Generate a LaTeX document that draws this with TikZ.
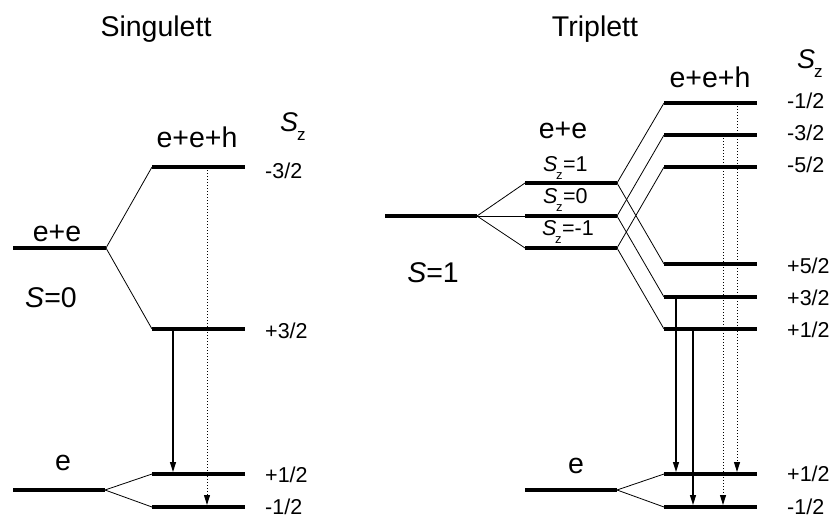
\documentclass[tikz,border=0pt]{standalone}
\usepackage{fontspec}
\setmainfont{Liberation Sans}
\usetikzlibrary{arrows.meta}
\newcommand\mylevel[4]{%
  \coordinate (#1-l) at (#2,#4);
  \coordinate (#1-r) at (#3,#4);
  \draw[lev] (#1-l) -- (#1-r);}
\newcommand\szsmall[1]{{\itshape S}\kern-1.5pt\raisebox{-0.4em}{\fontsize{13}{13}\selectfont z}\kern0.5pt#1}
\newcommand\szhead{{\itshape S}\kern-1pt\raisebox{-0.35em}{\fontsize{17}{17}\selectfont z}}
\begin{document}
\begin{tikzpicture}[x=1pt,y=-1pt,
  lev/.style={line width=4pt},
  conn/.style={line width=0.8pt},
  trans/.style={line width=1.4pt,-{Triangle[length=10pt,width=6pt]},shorten >=2pt},
  forb/.style={line width=1pt,dotted,-{Triangle[length=10pt,width=6pt]},shorten >=2pt},
  big/.style={font=\fontsize{28.5}{30}\selectfont, anchor=base, inner sep=0pt},
  lab/.style={font=\fontsize{21.5}{24}\selectfont, anchor=base west, inner sep=0pt},
  szl/.style={font=\fontsize{21.5}{22}\selectfont, anchor=base west, inner sep=0pt},
  hdr/.style={font=\fontsize{27}{30}\selectfont, anchor=base west, inner sep=0pt}]
\useasboundingbox (0,0) rectangle (834,519);

% ---------------- Singulett ----------------
\node[big] (tS) at (156,37) {Singulett};
\mylevel{ee}{13}{106}{248}
\mylevel{hu}{152}{245}{167}
\mylevel{hl}{152}{245}{329}
\mylevel{e}{13}{105}{490}
\mylevel{ep}{152}{245}{474}
\mylevel{em}{152}{245}{507}
\draw[conn] (ee-r) -- (hu-l);
\draw[conn] (ee-r) -- (hl-l);
\draw[conn] (e-r) -- (ep-l);
\draw[conn] (e-r) -- (em-l);
\draw[trans] ([xshift=21pt]hl-l) -- ([xshift=21pt]ep-l);
\draw[forb] ([xshift=55pt]hu-l) -- ([xshift=55pt]em-l);

\node[big] (lee) at (57,241) {e+e};
\node[big] (leeh) at (197,147) {e+e+h};
\node[big] (lS0) at (51,307) {{\itshape S}=0};
\node[big] (le) at (63,470) {e};
\node[hdr] (lsz) at (280,131) {\szhead};
\node[lab] (l1) at (265,178) {-3/2};
\node[lab] (l2) at (265,338) {+3/2};
\node[lab] (l3) at (265,482) {+1/2};
\node[lab] (l4) at (265,514) {-1/2};

% ---------------- Triplett ----------------
\node[big] (tT) at (595,37) {Triplett};
\mylevel{s1}{385}{477}{216}
\mylevel{ta}{525}{617}{183}
\mylevel{tb}{525}{617}{216}
\mylevel{tc}{525}{617}{248}
\mylevel{h1}{664}{757}{103}
\mylevel{h2}{664}{757}{135}
\mylevel{h3}{664}{757}{167}
\mylevel{h4}{664}{757}{264}
\mylevel{h5}{664}{757}{297}
\mylevel{h6}{664}{757}{329}
\mylevel{te}{525}{617}{490}
\mylevel{tp}{664}{757}{474}
\mylevel{tm}{664}{757}{507}
\draw[conn] (s1-r) -- (ta-l);
\draw[conn] (s1-r) -- (tb-l);
\draw[conn] (s1-r) -- (tc-l);
\draw[conn] (ta-r) -- (h1-l);
\draw[conn] (tb-r) -- (h2-l);
\draw[conn] (tc-r) -- (h3-l);
\draw[conn] (ta-r) -- (h4-l);
\draw[conn] (tb-r) -- (h5-l);
\draw[conn] (tc-r) -- (h6-l);
\draw[conn] (te-r) -- (tp-l);
\draw[conn] (te-r) -- (tm-l);
\draw[trans] ([xshift=12pt]h5-l) -- ([xshift=12pt]tp-l);
\draw[trans] ([xshift=29pt]h6-l) -- ([xshift=29pt]tm-l);
\draw[forb] ([xshift=59pt]h2-l) -- ([xshift=59pt]tm-l);
\draw[forb] ([xshift=73pt]h1-l) -- ([xshift=73pt]tp-l);

\node[big] (ree) at (563,138) {e+e};
\node[szl] (rz1) at (543,171) {\szsmall{=1}};
\node[szl] (rz0) at (543,203) {\szsmall{=0}};
\node[szl] (rzm) at (542,235) {\szsmall{=-1}};
\node[big] (rS1) at (433,282) {{\itshape S}=1};
\node[big] (reeh) at (710,87) {e+e+h};
\node[big] (re) at (576,473) {e};
\node[hdr] (rsz) at (797,68) {\szhead};
\node[lab] (r1) at (787,108) {-1/2};
\node[lab] (r2) at (787,140) {-3/2};
\node[lab] (r3) at (787,172) {-5/2};
\node[lab] (r4) at (787,273) {+5/2};
\node[lab] (r5) at (787,305) {+3/2};
\node[lab] (r6) at (787,337) {+1/2};
\node[lab] (r7) at (787,481) {+1/2};
\node[lab] (r8) at (787,514) {-1/2};
\end{tikzpicture}
\end{document}
